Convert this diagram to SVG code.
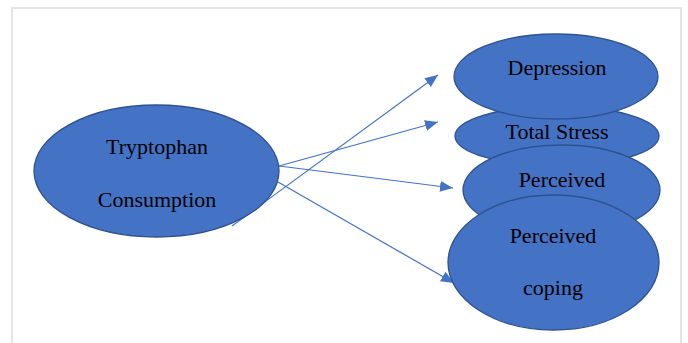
<svg xmlns="http://www.w3.org/2000/svg" width="688" height="343" viewBox="0 0 688 343">
  <style>
    .frame { fill: none; stroke: #e4e4e4; stroke-width: 2; }
    .node { fill: #4472c4; stroke: #2f528f; stroke-width: 1.3; }
    .lbl { font-family: "Liberation Serif", "Times New Roman", serif; font-size: 22px; fill: #000; text-anchor: middle; }
    .edge { stroke: #4472c4; stroke-width: 1.2; fill: none; marker-end: url(#arr); }
  </style>
  <defs>
    <marker id="arr" markerUnits="userSpaceOnUse" markerWidth="13" markerHeight="11" refX="13" refY="5.5" orient="auto">
      <path d="M0,0 L13,5.5 L0,11 z" fill="#4472c4"/>
    </marker>
  </defs>
  <rect width="688" height="343" fill="#ffffff"/>
  <path class="frame" d="M12,350 L12,8 L681,8 L681,350"/>

  <g id="connectors">
    <line class="edge" x1="232" y1="226" x2="438" y2="75"/>
    <line class="edge" x1="279" y1="166" x2="438" y2="122"/>
    <line class="edge" x1="279" y1="166" x2="453" y2="188"/>
    <line class="edge" x1="278" y1="182" x2="454" y2="283"/>
  </g>

  <g id="tryptophan">
    <ellipse class="node" cx="156.5" cy="171" rx="122.5" ry="66"/>
    <text class="lbl" x="157" y="154">Tryptophan</text>
    <text class="lbl" x="157" y="207">Consumption</text>
  </g>
  <g id="total-stress">
    <ellipse class="node" cx="557" cy="136" rx="102" ry="30"/>
    <text class="lbl" x="557" y="139">Total Stress</text>
  </g>
  <g id="depression">
    <ellipse class="node" cx="556" cy="76.5" rx="102" ry="42.5"/>
    <text class="lbl" x="557" y="75">Depression</text>
  </g>
  <g id="perceived">
    <ellipse class="node" cx="561.5" cy="190" rx="98.5" ry="45"/>
    <text class="lbl" x="562" y="187">Perceived</text>
  </g>
  <g id="perceived-coping">
    <ellipse class="node" cx="553.5" cy="262.5" rx="105.5" ry="67.5"/>
    <text class="lbl" x="553" y="243">Perceived</text>
    <text class="lbl" x="553" y="295">coping</text>
  </g>
</svg>
